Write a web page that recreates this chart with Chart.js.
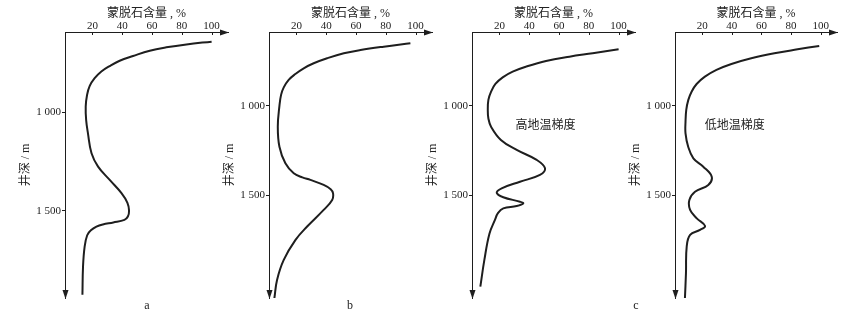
<!DOCTYPE html>
<html>
<head>
<meta charset="utf-8">
<script src="https://cdn.jsdelivr.net/npm/chart.js@4.4.1/dist/chart.umd.min.js"></script>
<style>
  html, body { margin: 0; padding: 0; background: #fff; overflow: hidden; }
  #wrap { position: relative; width: 843px; height: 317px; }
  #wrap canvas { position: absolute; top: 0; }
  .tag { position: absolute; font: 12px "Liberation Serif", serif; color: #222; transform: translate(-50%, -50%); }
</style>
</head>
<body>
<div id="wrap">
  <canvas id="pa" width="216" height="317" style="left:15px"></canvas>
  <canvas id="pb" width="216" height="317" style="left:219px"></canvas>
  <canvas id="pc" width="216" height="317" style="left:422px"></canvas>
  <canvas id="pd" width="215" height="317" style="left:625px"></canvas>
  <div class="tag" style="left:147px;top:305px">a</div>
  <div class="tag" style="left:350px;top:305px">b</div>
  <div class="tag" style="left:636px;top:305px">c</div>
</div>
<script>
// ---- data ----------------------------------------------------------
const xTicks = [20, 40, 60, 80, 100];
const yTicks = [1000, 1500];
const xTitle = '蒙脱石含量 , %';
const yTitle = '井深 / m';

// panel a
const depthA = [641, 655, 670, 687, 714, 738, 765, 793, 827, 866, 912, 971, 1040, 1107, 1208, 1276, 1344, 1411, 1460, 1500, 1530, 1547, 1560, 1570, 1581, 1600, 1625, 1682, 1784, 1928];
const clayA  = [100, 83.1, 69.6, 58.5, 47.3, 38.3, 31.6, 26, 21.5, 18.2, 16.4, 15.5, 15.8, 17, 19.4, 23.8, 31.6, 39.5, 43.5, 44.6, 43.8, 41.5, 34, 27, 22.7, 19, 16.5, 14.8, 13.7, 13.3];

// panel b
const depthB = [649, 668, 687, 705, 733, 761, 789, 821, 854, 896, 938, 1000, 1116, 1228, 1321, 1377, 1400, 1414, 1442, 1466, 1489, 1526, 1582, 1675, 1750, 1862, 1974, 2077];
const clayB  = [96.5, 78.6, 63, 51.8, 40.6, 31.6, 24.9, 19.3, 14.8, 11.5, 9.7, 8.6, 7.5, 8.6, 12.6, 18.2, 24, 29.4, 38.3, 43, 44.6, 44, 38.3, 27.2, 19.4, 11.5, 7, 5.2];

// panel c (high geothermal gradient)
const depthC = [683, 705, 724, 748, 780, 808, 840, 877, 920, 966, 1022, 1070, 1116, 1190, 1246, 1302, 1349, 1386, 1424, 1461, 1486, 1511, 1536, 1545, 1560, 1573, 1600, 1638, 1715, 1862, 2011];
const clayC  = [100, 82.6, 67, 51.3, 37.9, 28.9, 22.2, 17.3, 14.4, 12.6, 12.2, 12.6, 14.4, 21, 31.6, 45, 50.6, 47.2, 33.8, 21.5, 18.2, 22.6, 33.8, 36, 31.6, 22.6, 19, 17, 13.3, 9.9, 7.2];

// panel d (low geothermal gradient)
const depthD = [664, 683, 705, 733, 765, 798, 836, 877, 920, 966, 1022, 1090, 1153, 1228, 1293, 1340, 1396, 1442, 1480, 1526, 1582, 1629, 1672, 1694, 1722, 1788, 1937, 2077];
const clayD  = [99, 84.4, 68.7, 53.1, 39.7, 29.6, 21.8, 16.2, 12.8, 10.6, 9.2, 8.7, 8.7, 10.5, 14, 20.7, 26.4, 24.1, 15.1, 11.3, 11.8, 16.3, 21.9, 18.5, 11.8, 9.5, 9, 8.3];

const noteText  = ['高地温梯度', '低地温梯度'];
const noteClay  = [51, 42];
const noteDepth = [1106, 1106];

// ---- drawing --------------------------------------------------------
const INK   = '#1e1e1e';
const TEXT  = '#222';
const SERIF = '"Liberation Serif", "Noto Sans CJK SC", serif';

// inward ticks on the top axis, arrow heads, in-plot note
const axisDecor = {
  id: 'axisDecor',
  afterDraw(chart, args, opts) {
    const { ctx, chartArea: a, scales: { x, y } } = chart;
    ctx.save();
    ctx.strokeStyle = INK;
    ctx.fillStyle = INK;
    ctx.lineWidth = 1;
    ctx.beginPath();
    xTicks.forEach(v => {
      const px = Math.round(x.getPixelForValue(v)) + 0.5;
      ctx.moveTo(px, a.top);
      ctx.lineTo(px, a.top + 3);
    });
    ctx.stroke();

    const ty = Math.round(a.top) + 0.5;
    ctx.beginPath();
    ctx.moveTo(a.right + 1, ty);
    ctx.lineTo(a.right - 8, ty - 3);
    ctx.lineTo(a.right - 8, ty + 3);
    ctx.closePath();
    ctx.fill();

    const lx = Math.round(a.left) + 0.5;
    ctx.beginPath();
    ctx.moveTo(lx, a.bottom + 1);
    ctx.lineTo(lx - 3, a.bottom - 8);
    ctx.lineTo(lx + 3, a.bottom - 8);
    ctx.closePath();
    ctx.fill();

    if (opts.text) {
      ctx.font = '12px "Noto Sans CJK SC", sans-serif';
      ctx.fillStyle = TEXT;
      ctx.textAlign = 'center';
      ctx.textBaseline = 'middle';
      ctx.fillText(opts.text, x.getPixelForValue(opts.clay), y.getPixelForValue(opts.depth));
    }
    ctx.restore();
  }
};

const spaced = v => String(v).replace(/\B(?=(\d{3})+(?!\d))/g, ' ');

function drawPanel(id, depths, clay, yMin, yMax, note) {
  new Chart(document.getElementById(id), {
    type: 'line',
    data: {
      datasets: [{
        data: depths.map((d, i) => ({ x: clay[i], y: d })),
        borderColor: INK,
        borderWidth: 2,
        pointRadius: 0,
        tension: 0.4,
        fill: false,
      }],
    },
    options: {
      indexAxis: 'y',
      responsive: false,
      animation: false,
      devicePixelRatio: 1,
      layout: { padding: { left: 0, right: 3, top: 0, bottom: 19 } },
      plugins: {
        legend: { display: false },
        tooltip: { enabled: false },
        axisDecor: note || {},
      },
      scales: {
        x: {
          type: 'linear',
          position: 'top',
          min: 1.6,
          max: 111,
          afterFit: s => { s.height = 32; },
          afterBuildTicks: s => { s.ticks = xTicks.map(v => ({ value: v })); },
          grid: { display: false, drawTicks: false },
          border: { display: true, color: INK, width: 1 },
          ticks: { autoSkip: false, maxRotation: 0, padding: 0, color: TEXT, font: { family: SERIF, size: 11, lineHeight: 1 } },
          title: { display: true, text: xTitle, color: TEXT, font: { family: SERIF, size: 12 }, padding: { top: 7, bottom: 0 } },
        },
        y: {
          type: 'linear',
          position: 'left',
          reverse: true,
          min: yMin,
          max: yMax,
          afterFit: s => { s.width = 50; },
          afterBuildTicks: s => { s.ticks = yTicks.map(v => ({ value: v })); },
          grid: { drawOnChartArea: false, drawTicks: true, tickLength: 3, color: INK },
          border: { display: true, color: INK, width: 1 },
          ticks: { autoSkip: false, padding: 1, color: TEXT, font: { family: SERIF, size: 11 }, callback: spaced },
          title: { display: true, text: yTitle, color: TEXT, font: { family: SERIF, size: 12 }, padding: { top: 4, bottom: 0 } },
        },
      },
    },
    plugins: [axisDecor],
  });
}

drawPanel('pa', depthA, clayA, 592, 1944);
drawPanel('pb', depthB, clayB, 586, 2075);
drawPanel('pc', depthC, clayC, 586, 2075, { text: noteText[0], clay: noteClay[0], depth: noteDepth[0] });
drawPanel('pd', depthD, clayD, 586, 2075, { text: noteText[1], clay: noteClay[1], depth: noteDepth[1] });
</script>
</body>
</html>
